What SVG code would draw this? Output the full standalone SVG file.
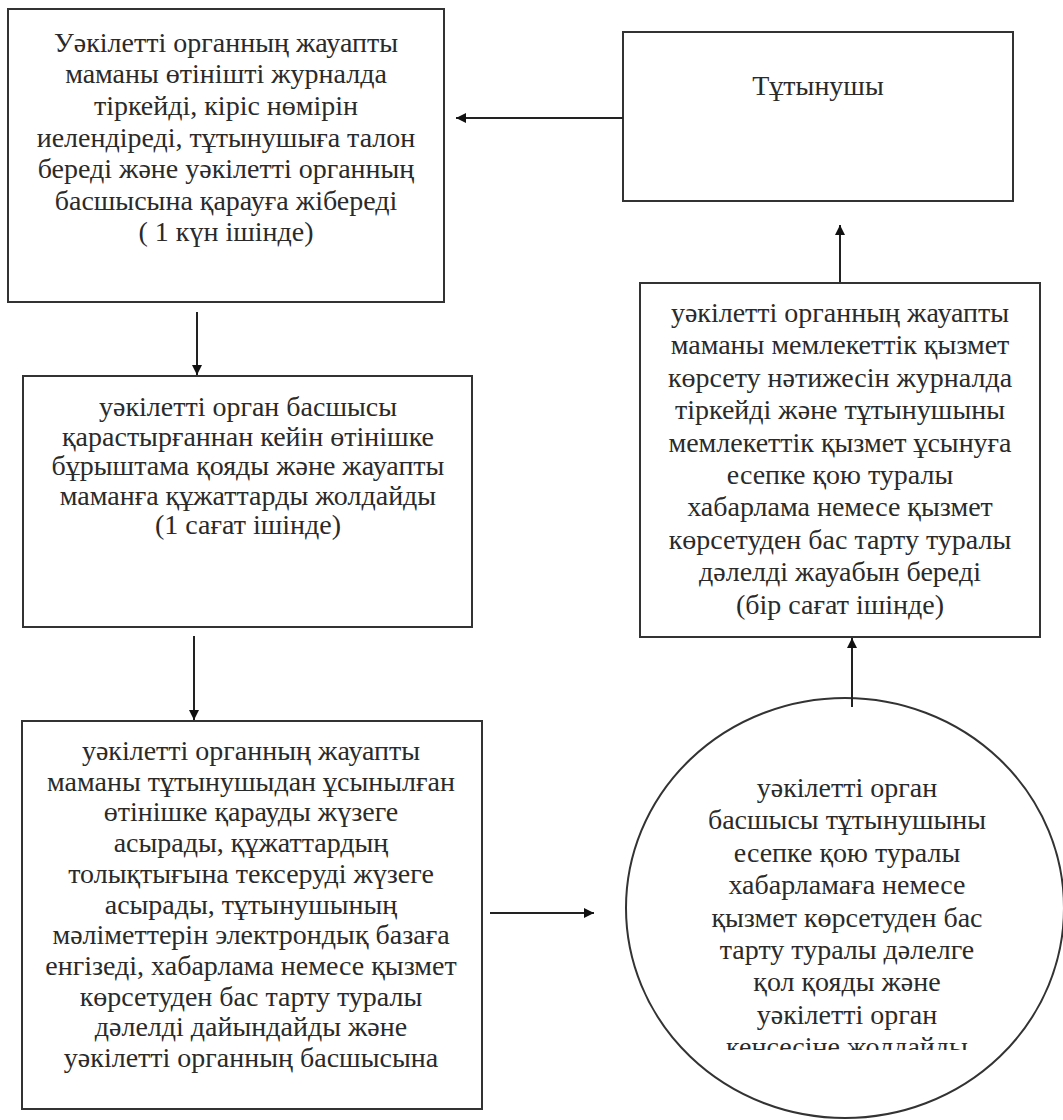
<svg xmlns="http://www.w3.org/2000/svg" width="1063" height="1120" viewBox="0 0 1063 1120">
<style>
.box{fill:#fff;stroke:#333;stroke-width:2}
.t{font-family:"Liberation Serif",serif;font-size:28px;fill:#2a2a2a;text-anchor:middle}
.c{fill:none;stroke:#222;stroke-width:2}
</style>
<defs>
<marker id="ah" viewBox="0 0 10 10" refX="10" refY="5" markerWidth="12" markerHeight="10" markerUnits="userSpaceOnUse" orient="auto">
<path d="M0,0 L10,5 L0,10 z" fill="#111"/>
</marker>
<clipPath id="cc"><rect x="600" y="690" width="463" height="360"/></clipPath>
</defs>
<rect width="1063" height="1120" fill="#fff"/>
<g id="n1">
<rect class="box" x="8" y="9" width="436" height="293"/>
<text class="t" x="226" y="52">Уәкілетті органның жауапты</text>
<text class="t" x="226" y="83">маманы өтінішті журналда</text>
<text class="t" x="226" y="115">тіркейді, кіріс нөмірін</text>
<text class="t" x="226" y="147">иелендіреді, тұтынушыға талон</text>
<text class="t" x="226" y="178">береді және уәкілетті органның</text>
<text class="t" x="226" y="210">басшысына қарауға жібереді</text>
<text class="t" x="226" y="241">( 1 күн ішінде)</text>
</g>
<g id="n2">
<rect class="box" x="623" y="32" width="390" height="169"/>
<text class="t" x="818" y="95">Тұтынушы</text>
</g>
<g id="n3">
<rect class="box" x="23" y="376" width="449" height="251"/>
<text class="t" x="248" y="416">уәкілетті орган басшысы</text>
<text class="t" x="248" y="446">қарастырғаннан кейін өтінішке</text>
<text class="t" x="248" y="475">бұрыштама қояды және жауапты</text>
<text class="t" x="248" y="505">маманға құжаттарды жолдайды</text>
<text class="t" x="248" y="534">(1 сағат ішінде)</text>
</g>
<g id="n4">
<rect class="box" x="640" y="283" width="400" height="354"/>
<text class="t" x="840" y="322">уәкілетті органның жауапты</text>
<text class="t" x="840" y="354">маманы мемлекеттік қызмет</text>
<text class="t" x="840" y="387">көрсету нәтижесін журналда</text>
<text class="t" x="840" y="419">тіркейді және тұтынушыны</text>
<text class="t" x="840" y="452">мемлекеттік қызмет ұсынуға</text>
<text class="t" x="840" y="484">есепке қою туралы</text>
<text class="t" x="840" y="516">хабарлама немесе қызмет</text>
<text class="t" x="840" y="549">көрсетуден бас тарту туралы</text>
<text class="t" x="840" y="581">дәлелді жауабын береді</text>
<text class="t" x="840" y="614">(бір сағат ішінде)</text>
</g>
<g id="n5">
<rect class="box" x="22" y="721" width="460" height="388"/>
<text class="t" x="251" y="760">уәкілетті органның жауапты</text>
<text class="t" x="251" y="791">маманы тұтынушыдан ұсынылған</text>
<text class="t" x="251" y="821">өтінішке қарауды жүзеге</text>
<text class="t" x="251" y="852">асырады, құжаттардың</text>
<text class="t" x="251" y="883">толықтығына тексеруді жүзеге</text>
<text class="t" x="251" y="914">асырады, тұтынушының</text>
<text class="t" x="251" y="944">мәліметтерін электрондық базаға</text>
<text class="t" x="251" y="975">енгізеді, хабарлама немесе қызмет</text>
<text class="t" x="251" y="1006">көрсетуден бас тарту туралы</text>
<text class="t" x="251" y="1036">дәлелді дайындайды және</text>
<text class="t" x="251" y="1067">уәкілетті органның басшысына</text>
</g>
<g id="n6">
<ellipse cx="845" cy="908" rx="219" ry="210" fill="#fff" stroke="#333" stroke-width="2"/>
<g clip-path="url(#cc)">
<text class="t" x="847" y="797">уәкілетті орган</text>
<text class="t" x="847" y="829">басшысы тұтынушыны</text>
<text class="t" x="847" y="862">есепке қою туралы</text>
<text class="t" x="847" y="894">хабарламаға немесе</text>
<text class="t" x="847" y="927">қызмет көрсетуден бас</text>
<text class="t" x="847" y="959">тарту туралы дәлелге</text>
<text class="t" x="847" y="991">қол қояды және</text>
<text class="t" x="847" y="1024">уәкілетті орган</text>
<text class="t" x="847" y="1056">кенсесіне жолдайды</text>
</g>
</g>
<g id="connectors">
<line class="c" x1="623" y1="118" x2="456" y2="118" marker-end="url(#ah)"/>
<line class="c" x1="197" y1="312" x2="197" y2="375" marker-end="url(#ah)"/>
<line class="c" x1="194" y1="636" x2="194" y2="720" marker-end="url(#ah)"/>
<line class="c" x1="490" y1="913" x2="594" y2="913" marker-end="url(#ah)"/>
<line class="c" x1="852" y1="707" x2="852" y2="638" marker-end="url(#ah)"/>
<line class="c" x1="840" y1="282" x2="840" y2="225" marker-end="url(#ah)"/>
</g>
</svg>
